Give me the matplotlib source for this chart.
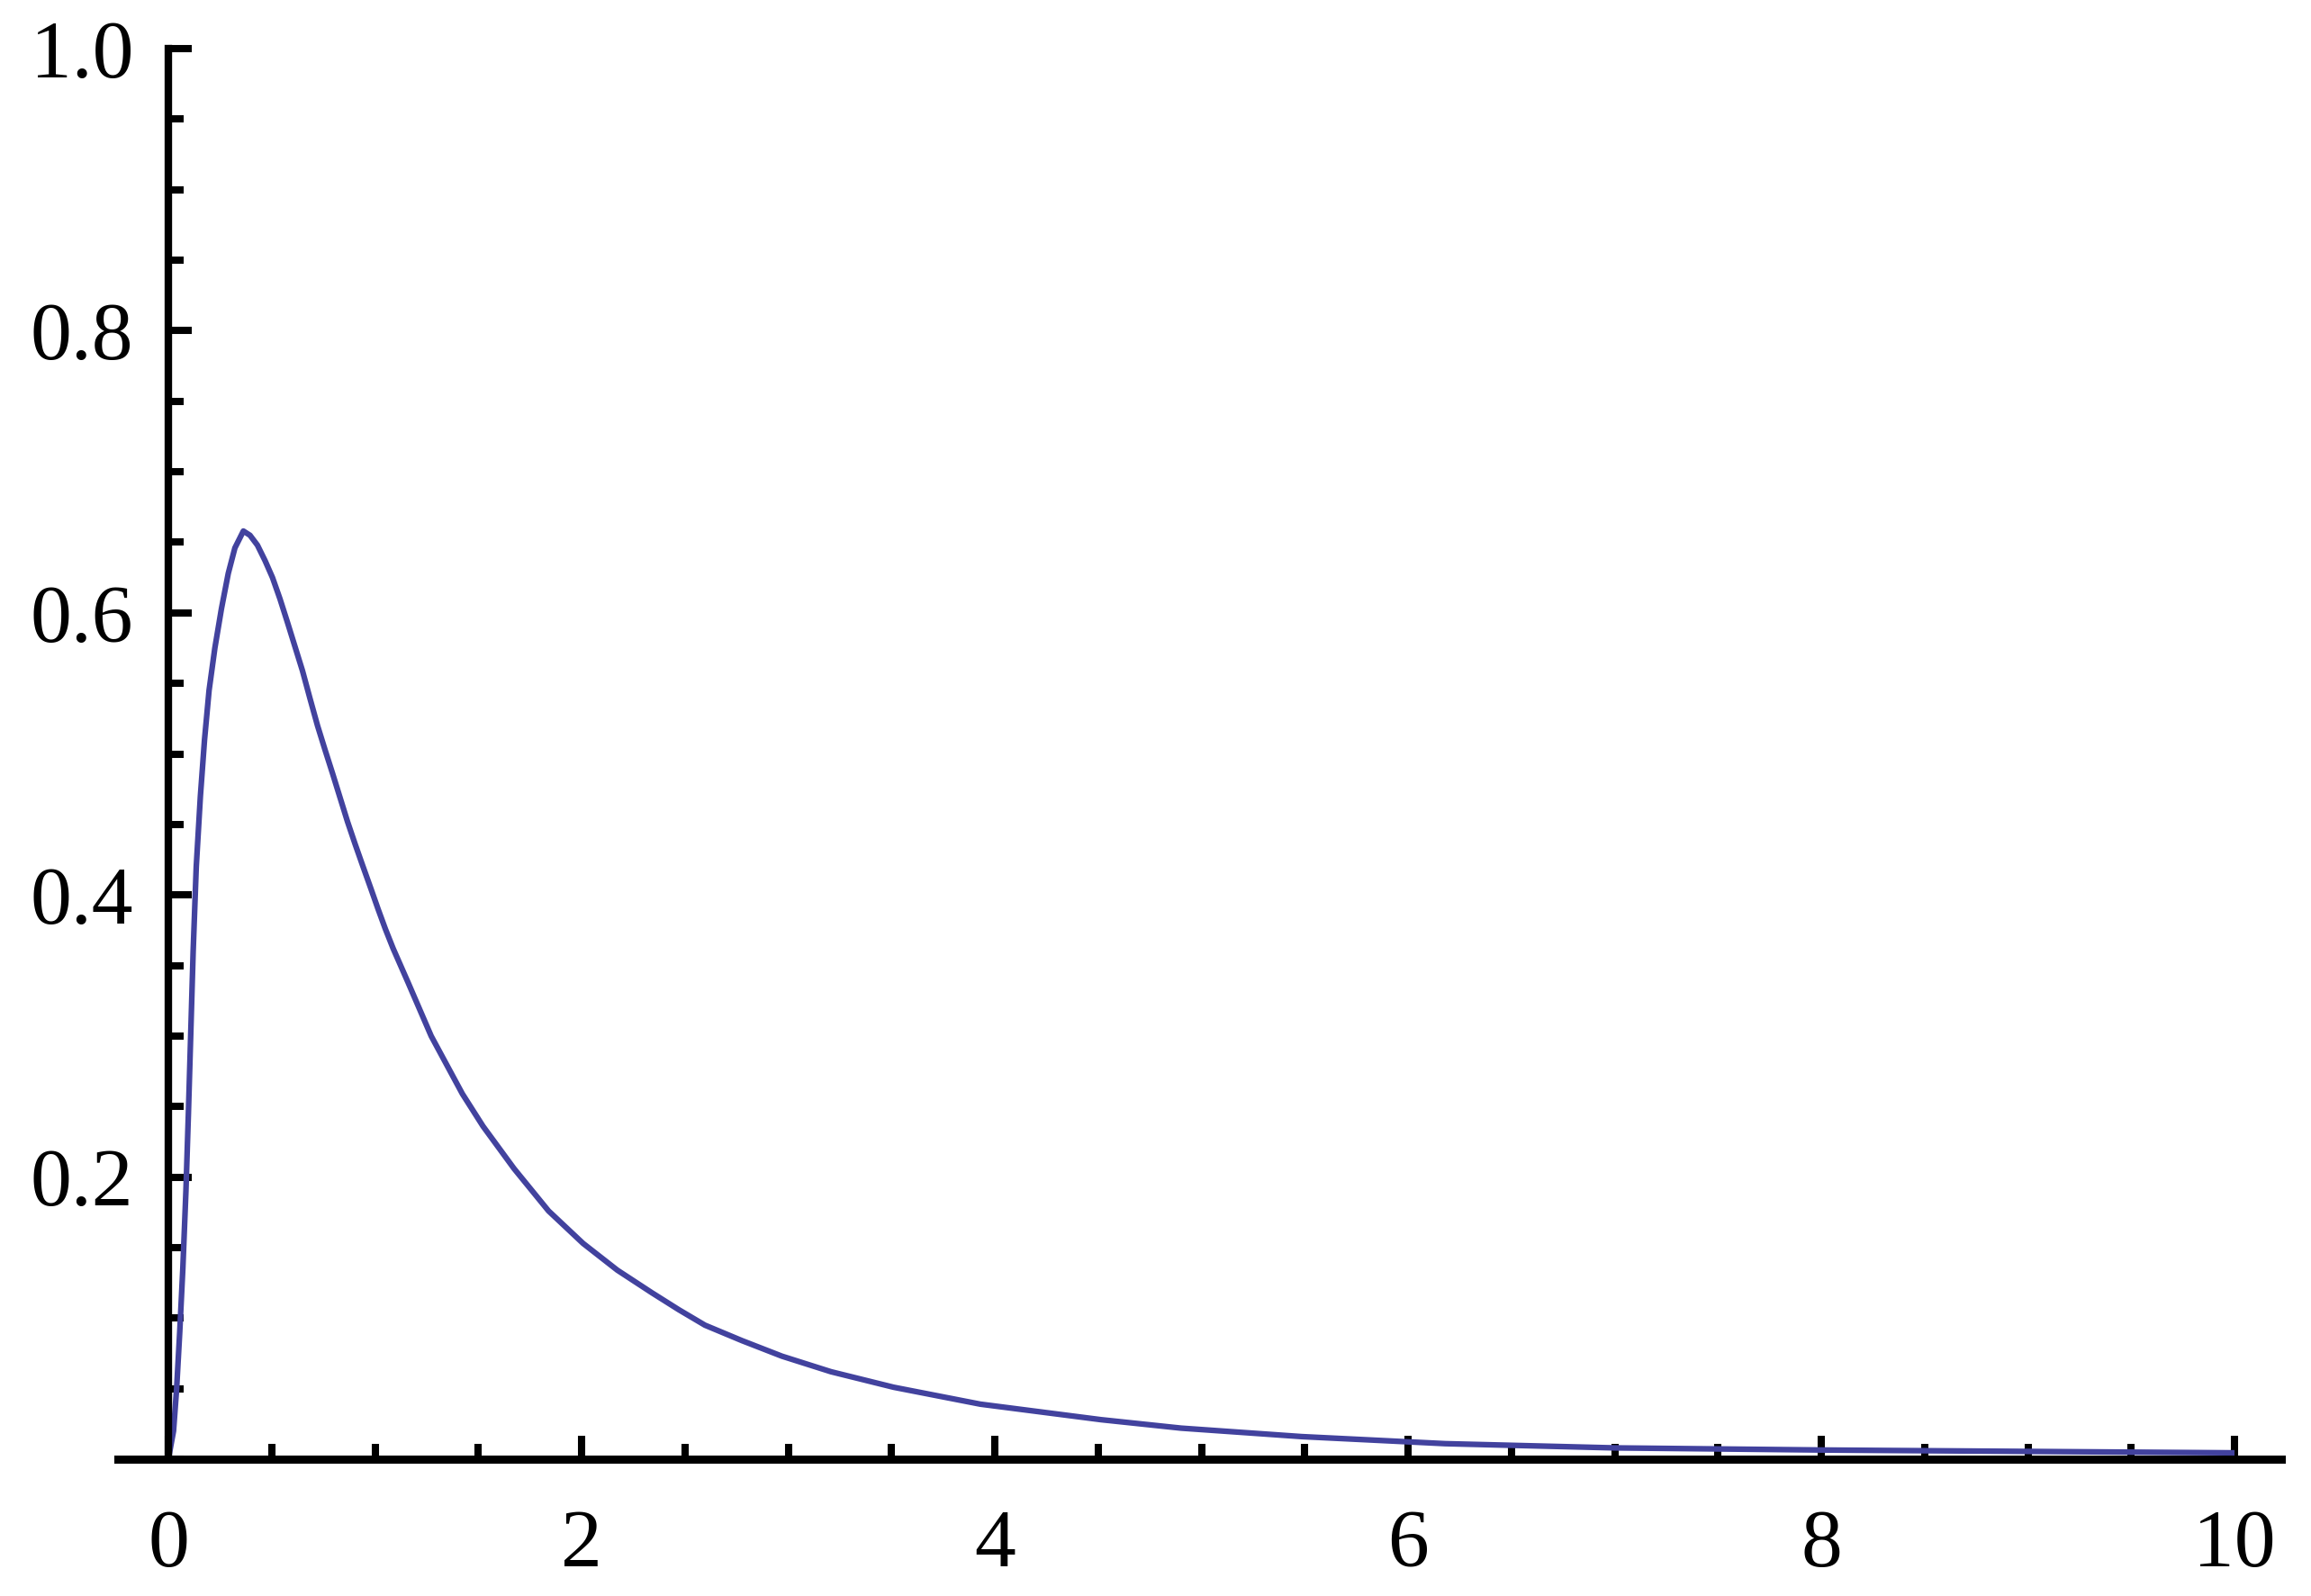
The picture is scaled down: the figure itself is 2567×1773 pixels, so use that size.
import matplotlib.pyplot as plt
from matplotlib.ticker import MultipleLocator, FixedLocator

# curve values
xs = [0.0, 0.025, 0.04, 0.055, 0.07, 0.085, 0.097, 0.108, 0.12, 0.135, 0.155,
      0.175, 0.197, 0.225, 0.257, 0.29, 0.322, 0.363, 0.395, 0.431, 0.468, 0.504,
      0.54, 0.577, 0.613, 0.649, 0.686, 0.722, 0.758, 0.795, 0.831, 0.867, 0.904,
      0.94, 0.979, 1.015, 1.05, 1.088, 1.124, 1.16, 1.272, 1.423, 1.523, 1.673,
      1.84, 2.007, 2.173, 2.34, 2.47, 2.597, 2.777, 2.97, 3.207, 3.51, 3.93,
      4.514, 4.902, 5.486, 6.18, 7.0, 8.0, 9.0, 10.0]
ys = [0.0, 0.02, 0.05, 0.09, 0.135, 0.19, 0.245, 0.30, 0.36, 0.42, 0.47,
      0.51, 0.545, 0.575, 0.603, 0.628, 0.646, 0.658, 0.655, 0.648, 0.637, 0.625,
      0.61, 0.593, 0.576, 0.559, 0.539, 0.52, 0.503, 0.486, 0.469, 0.452, 0.436,
      0.421, 0.405, 0.39, 0.376, 0.362, 0.35, 0.338, 0.300, 0.259, 0.236, 0.206,
      0.176, 0.153, 0.134, 0.118, 0.106, 0.095, 0.084, 0.073, 0.062, 0.051, 0.039,
      0.028, 0.022, 0.016, 0.011, 0.008, 0.0065, 0.0055, 0.0045]

xticks = [0, 2, 4, 6, 8, 10]
xlabels = ['0', '2', '4', '6', '8', '10']
yticks = [0.2, 0.4, 0.6, 0.8, 1.0]
ylabels = ['0.2', '0.4', '0.6', '0.8', '1.0']

fig = plt.figure(figsize=(25.67, 17.73), dpi=100)
ax = fig.add_axes([0.04603, 0.08573, 0.9477, 0.8838])
ax.plot(xs, ys, color=(0.26, 0.26, 0.62), lw=4.5, clip_on=False, solid_capstyle='butt')

ax.set_xlim(-0.3, 10.3)
ax.set_ylim(0, 1.0)
for s in ['top', 'right']:
    ax.spines[s].set_visible(False)
ax.spines['left'].set_position(('data', 0))
ax.spines['bottom'].set_position(('data', 0))
ax.spines['left'].set_bounds(0, 1.0)
ax.spines['bottom'].set_bounds(-0.244, 10.227)
ax.spines['left'].set_linewidth(6)
ax.spines['bottom'].set_linewidth(6.5)

ax.xaxis.set_major_locator(FixedLocator(xticks))
ax.set_xticklabels(xlabels)
ax.xaxis.set_minor_locator(MultipleLocator(0.5))
ax.yaxis.set_major_locator(FixedLocator(yticks))
ax.set_yticklabels(ylabels)
ax.yaxis.set_minor_locator(MultipleLocator(0.05))

ax.tick_params(which='both', direction='in', width=5.8, color='black')
ax.tick_params(which='major', length=19)
ax.tick_params(which='minor', length=12)
ax.tick_params(axis='x', which='major', pad=40)
ax.tick_params(axis='y', which='major', pad=28)
for lab in ax.get_xticklabels() + ax.get_yticklabels():
    lab.set_fontfamily('Liberation Serif')
    lab.set_fontsize(66)

fig.savefig('out.png', dpi=100, facecolor='white')
